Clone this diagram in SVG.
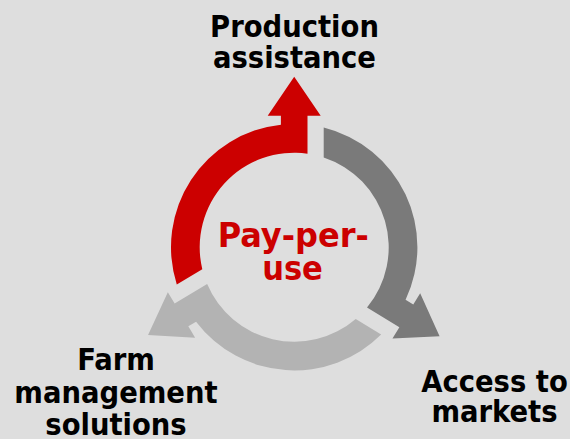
<svg xmlns="http://www.w3.org/2000/svg" width="570" height="439" viewBox="0 0 570 439">
<style>
.lbl{font-family:"DejaVu Sans Condensed","DejaVu Sans",sans-serif;font-stretch:condensed;font-weight:bold;font-size:30.5px;fill:#000;text-anchor:middle}
.ctr{font-family:"DejaVu Sans Condensed","DejaVu Sans",sans-serif;font-stretch:condensed;font-weight:bold;font-size:34px;fill:#CC0000;text-anchor:middle}
</style>
<rect width="570" height="439" fill="#DEDEDE"/>
<g id="connectors">
<path id="arrow-red" fill="#CC0000" d="M176.78,284.5 A123.2,123.2 0 0 1 280.9,124.72 L280.9,115.7 L267.7,115.7 L294.2,76.7 L320.7,115.7 L307.5,115.7 L307.5,153.64 A94.5,94.5 0 0 0 202.29,269.18 Z"/>
<path id="arrow-dark" fill="#7A7A7A" d="M323.7,127.58 A123.2,123.2 0 0 1 405.58,299.86 L413.27,304.57 L420.17,293.31 L439.58,336.29 L392.47,338.51 L399.37,327.25 L367.02,307.43 A94.5,94.5 0 0 0 323.7,157.42 Z"/>
<path id="arrow-light" fill="#B3B3B3" d="M381.15,334.5 A123.2,123.2 0 0 1 196.06,321.68 L188.33,326.33 L195.13,337.64 L148.05,335.01 L167.83,292.22 L174.63,303.53 L207.15,283.99 A94.5,94.5 0 0 0 355.74,318.92 Z"/>
</g>
<g id="node-center">
<text class="ctr" x="293.3" y="246.7" textLength="151" lengthAdjust="spacingAndGlyphs">Pay-per-</text>
<text class="ctr" x="292.5" y="280">use</text>
</g>
<g id="node-production">
<text class="lbl" x="294.5" y="36.5">Production</text>
<text class="lbl" x="294.5" y="68">assistance</text>
</g>
<g id="node-markets">
<text class="lbl" x="494.5" y="392.3">Access to</text>
<text class="lbl" x="494.5" y="421.7">markets</text>
</g>
<g id="node-farm">
<text class="lbl" x="116" y="370">Farm</text>
<text class="lbl" x="116" y="402.5">management</text>
<text class="lbl" x="116" y="435">solutions</text>
</g>
</svg>
